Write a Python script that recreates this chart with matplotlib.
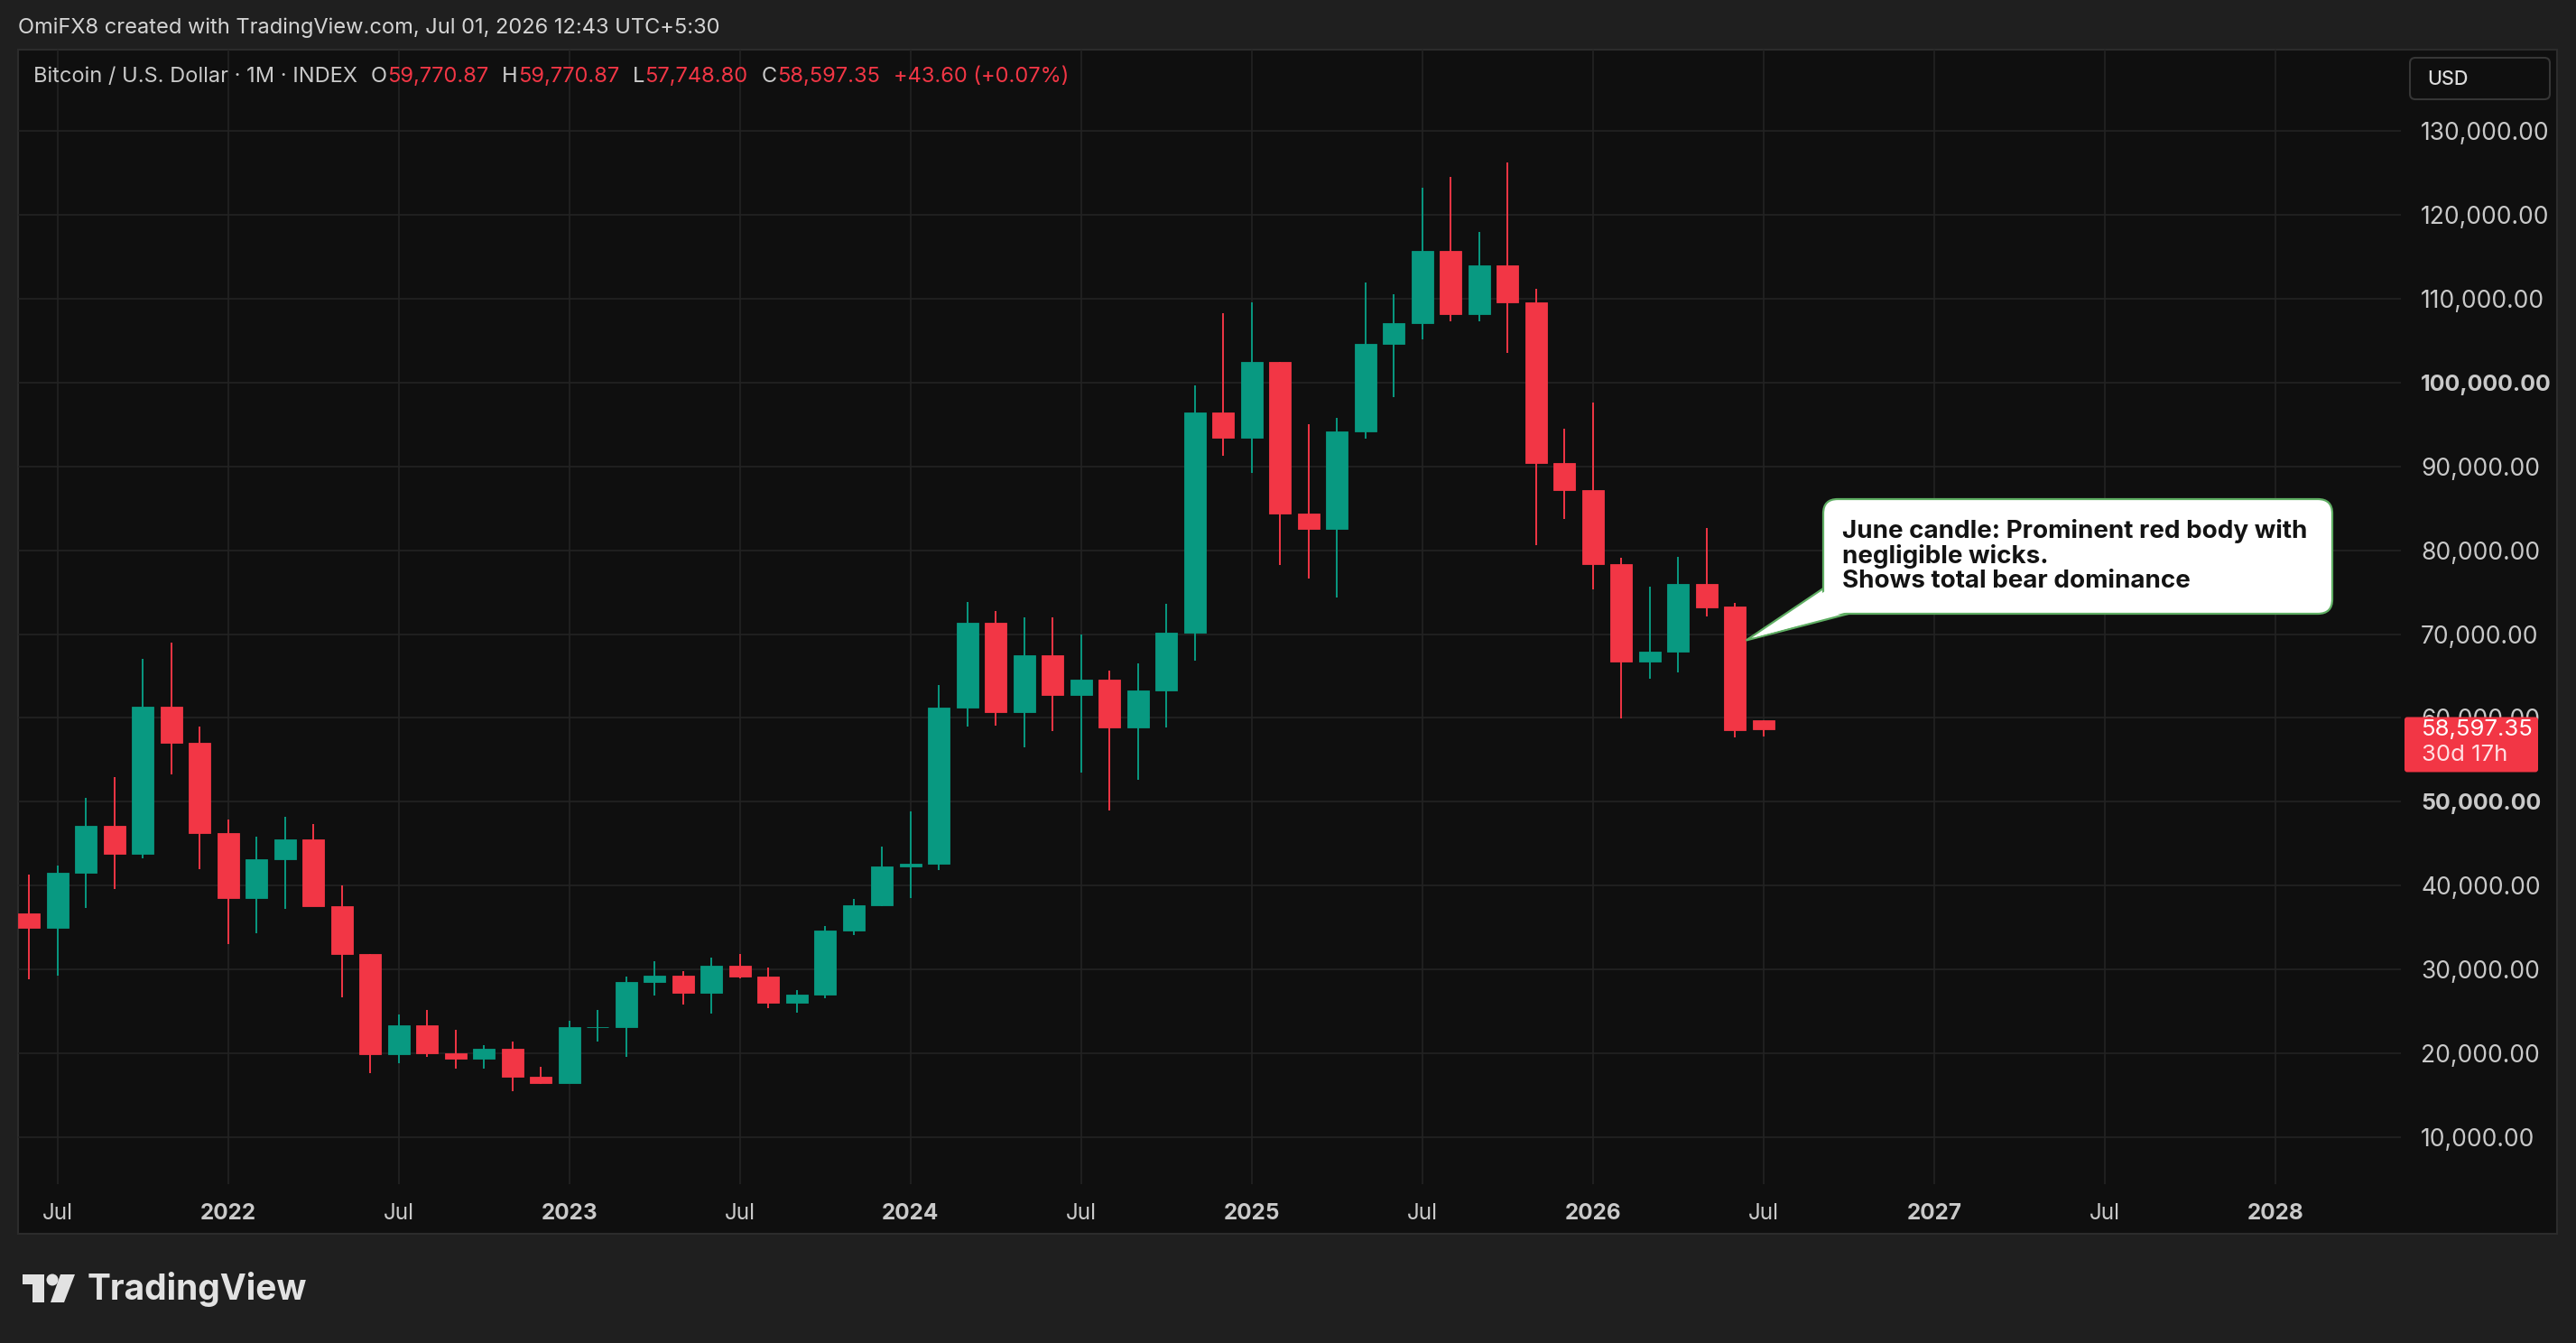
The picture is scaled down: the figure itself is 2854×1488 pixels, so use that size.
import matplotlib
matplotlib.use('Agg')
import matplotlib.pyplot as plt
from matplotlib.patches import Rectangle, FancyBboxPatch, Polygon, Circle
import numpy as np

plt.rcParams['font.family'] = ['Inter', 'DejaVu Sans']

# monthly BTC/USD candles, Jun 2021 .. Jul 2026
months = ['2021-06', '2021-07', '2021-08', '2021-09', '2021-10', '2021-11', '2021-12',
          '2022-01', '2022-02', '2022-03', '2022-04', '2022-05', '2022-06',
          '2022-07', '2022-08', '2022-09', '2022-10', '2022-11', '2022-12',
          '2023-01', '2023-02', '2023-03', '2023-04', '2023-05', '2023-06',
          '2023-07', '2023-08', '2023-09', '2023-10', '2023-11', '2023-12',
          '2024-01', '2024-02', '2024-03', '2024-04', '2024-05', '2024-06',
          '2024-07', '2024-08', '2024-09', '2024-10', '2024-11', '2024-12',
          '2025-01', '2025-02', '2025-03', '2025-04', '2025-05', '2025-06',
          '2025-07', '2025-08', '2025-09', '2025-10', '2025-11', '2025-12',
          '2026-01', '2026-02', '2026-03', '2026-04', '2026-05', '2026-06', '2026-07']
opens = [36700, 35000, 41500, 47100, 43800, 61300, 57000,
         46300, 38500, 43200, 45500, 37600, 31800,
         19900, 23300, 20000, 19400, 20500, 17200,
         16500, 23100, 23150, 28500, 29300, 27200,
         30500, 29200, 26000, 27000, 34700, 37700,
         42300, 42600, 61200, 71300, 60700, 67500,
         62700, 64600, 58900, 63300, 70200, 96400,
         93400, 102400, 84400, 82500, 94200, 104600,
         107100, 115700, 108200, 114000, 109600, 90400,
         87200, 78300, 66700, 67900, 76000, 73300, 59770.87]
highs = [41300, 42400, 50500, 52900, 67000, 69000, 59000,
         47900, 45800, 48200, 47400, 40000, 31900,
         24600, 25200, 22800, 21000, 21400, 18400,
         23900, 25200, 29200, 31000, 29800, 31400,
         31800, 30200, 27500, 35200, 38400, 44700,
         48900, 63900, 73800, 72800, 72000, 72000,
         70000, 65600, 66500, 73600, 99600, 108300,
         109600, 102500, 95000, 95800, 111900, 110500,
         123200, 124500, 117900, 126200, 111200, 94500,
         97600, 79100, 75600, 79200, 82600, 73700, 59770.87]
lows = [28800, 29300, 37300, 39600, 43300, 53300, 42000,
        33000, 34300, 37200, 37700, 26700, 17600,
        18800, 19600, 18200, 18200, 15500, 16300,
        16500, 21400, 19600, 26900, 25800, 24800,
        28900, 25400, 24900, 26600, 34100, 37600,
        38500, 41900, 59000, 59100, 56500, 58400,
        53500, 49000, 52600, 58900, 66800, 91300,
        89200, 78200, 76600, 74400, 93300, 98200,
        105100, 107300, 107300, 103500, 80600, 83700,
        75300, 59900, 64700, 65400, 72100, 57700, 57748.80]
closes = [35000, 41500, 47100, 43800, 61300, 57000, 46300,
          38500, 43200, 45500, 37600, 31800, 19900,
          23300, 20000, 19400, 20500, 17200, 16500,
          23100, 23150, 28500, 29300, 27200, 30500,
          29200, 26000, 27000, 34700, 37700, 42300,
          42600, 61200, 71300, 60700, 67500, 62700,
          64600, 58900, 63300, 70200, 96400, 93400,
          102400, 84400, 82500, 94200, 104600, 107100,
          115700, 108200, 114000, 109600, 90400, 87200,
          78300, 66700, 67900, 76000, 73200, 58553.75, 58597.35]

tick_months = ['2021-07', '2022-01', '2022-07', '2023-01', '2023-07', '2024-01', '2024-07',
               '2025-01', '2025-07', '2026-01', '2026-07', '2027-01', '2027-07', '2028-01']
tick_labels = ['Jul', '2022', 'Jul', '2023', 'Jul', '2024', 'Jul',
               '2025', 'Jul', '2026', 'Jul', '2027', 'Jul', '2028']
price_ticks = [10000, 20000, 30000, 40000, 50000, 60000, 70000,
               80000, 90000, 100000, 110000, 120000, 130000]
bold_prices = [50000, 100000]

note = 'June candle: Prominent red body with\nnegligible wicks.\nShows total bear dominance'
ohlc_text = [('O', '59,770.87'), ('H', '59,770.87'), ('L', '57,748.80'), ('C', '58,597.35')]
change_text = '+43.60 (+0.07%)'

GREEN = '#089981'
RED = '#f23645'
TXT = '#c9c9c9'
W, H = 2854, 1488


def month_pos(s):
    y, m = s.split('-')
    y0, m0 = months[0].split('-')
    return (int(y) - int(y0)) * 12 + int(m) - int(m0)


fig = plt.figure(figsize=(W / 100, H / 100), dpi=100)
fig.patch.set_facecolor('#1f1f1f')

# background panel (pixel coords, top-down)
bg = fig.add_axes([0, 0, 1, 1], zorder=0)
bg.set_xlim(0, W)
bg.set_ylim(H, 0)
bg.axis('off')
bg.add_patch(Rectangle((20, 55), 2813, 1312, facecolor='#0f0f0f', edgecolor='#2c2c2c', lw=1.5))

# main chart
ax = fig.add_axes([20 / W, 1 - 1312 / H, 2640 / W, 1257 / H], zorder=1)
ax.patch.set_alpha(0)
for s in ax.spines.values():
    s.set_visible(False)

o = np.array(opens)
c = np.array(closes)
x = np.array([month_pos(m) for m in months])
colors = np.where(c >= o, GREEN, RED)
ax.vlines(x, lows, highs, colors=colors, lw=1.4, zorder=3)
ax.bar(x, np.abs(c - o), bottom=np.minimum(o, c), width=0.76, color=colors,
       edgecolor=colors, lw=0.6, zorder=4)

x0 = month_pos('2021-07')
ax.set_xlim(x0 - 1.39, x0 + 82.42)
ax.set_ylim(4408, 139686)
ax.set_xticks([month_pos(m) for m in tick_months])
ax.set_xticklabels(tick_labels)
for t in ax.get_xticklabels():
    if t.get_text() != 'Jul':
        t.set_fontweight('bold')
ax.tick_params(axis='x', length=0, pad=15, labelsize=17.5, labelcolor=TXT)

ax.yaxis.tick_right()
ax.set_yticks(price_ticks)
ax.set_yticklabels([f'{v:,.2f}' for v in price_ticks])
ax.tick_params(axis='y', length=0, pad=16, labelsize=19, labelcolor=TXT)
for t, v in zip(ax.get_yticklabels(), price_ticks):
    if v in bold_prices:
        t.set_fontweight('bold')
        t.set_fontsize(18)
ax.grid(True, color='#232323', lw=1.2)
ax.set_axisbelow(True)

# foreground overlay
fg = fig.add_axes([0, 0, 1, 1], zorder=2)
fg.set_xlim(0, W)
fg.set_ylim(H, 0)
fg.axis('off')
fg.patch.set_alpha(0)


def to_px(xv, yv):
    px, py = ax.transData.transform((xv, yv))
    return px, H - py


fg.text(20, 31, 'OmiFX8 created with TradingView.com, Jul 01, 2026 12:43 UTC+5:30',
        color='#d4d4d4', fontsize=17, va='center', ha='left')

# legend line
renderer = fig.canvas.get_renderer()
cur = 37
pieces = [('Bitcoin / U.S. Dollar · 1M · INDEX', TXT, 15)]
for k, v in ohlc_text:
    pieces += [(k, TXT, 0), (v, RED, 15)]
pieces += [(change_text, RED, 0)]
for s, col, gap in pieces:
    t = fg.text(cur, 85, s, color=col, fontsize=17, va='center', ha='left')
    bb = t.get_window_extent(renderer)
    cur += bb.width + gap

# USD button
fg.add_patch(FancyBboxPatch((2670, 64), 155, 46, boxstyle='round,pad=0,rounding_size=6',
                            facecolor='#0f0f0f', edgecolor='#363636', lw=1.5))
fg.text(2689, 88, 'USD', color='#dcdcdc', fontsize=15.5, va='center', ha='left', fontweight='medium')

# last price label
_, ly = to_px(0, closes[-1])
fg.add_patch(FancyBboxPatch((2664, ly - 14), 148, 61, boxstyle='round,pad=0,rounding_size=3',
                            facecolor=RED, edgecolor='none'))
fg.text(2683, ly, f'{closes[-1]:,.2f}', color='white', fontsize=18.5, va='center', ha='left')
fg.text(2683, ly + 28, '30d 17h', color='#ffe0e3', fontsize=18.5, va='center', ha='left')

# callout
tx, ty = to_px(month_pos('2026-06') + 0.39, 69250)
edge = '#5fae63'
fg.add_patch(Polygon([(2020, 652), (tx, ty), (2048, 680)], closed=True,
                     facecolor='white', edgecolor=edge, lw=1.6, zorder=5))
fg.add_patch(FancyBboxPatch((2020, 553), 564, 127, boxstyle='round,pad=0,rounding_size=16',
                            facecolor='white', edgecolor=edge, lw=1.6, zorder=6))
fg.add_patch(Polygon([(2022, 655), (tx + 8, ty - 3), (2045, 678.5)], closed=True,
                     facecolor='white', edgecolor='none', zorder=7))
fg.text(2041, 616, note, color='#131313', fontsize=20, fontweight='bold',
        va='center', ha='left', linespacing=1.05, zorder=8)

# TradingView logo
logo = '#e2e2e2'
fg.add_patch(Polygon([(24.5, 1412), (49, 1412), (49, 1443), (36, 1443), (36, 1423), (24.5, 1423)],
                     closed=True, facecolor=logo, edgecolor='none'))
fg.add_patch(Circle((58, 1418), 6.5, facecolor=logo, edgecolor='none'))
fg.add_patch(Polygon([(67, 1412), (83, 1412), (71, 1443), (56, 1443)], closed=True,
                     facecolor=logo, edgecolor='none'))
fg.text(97, 1429, 'TradingView', color=logo, fontsize=28, fontweight='bold', va='center', ha='left')

fig.savefig('out.png', dpi=100, facecolor=fig.get_facecolor())
